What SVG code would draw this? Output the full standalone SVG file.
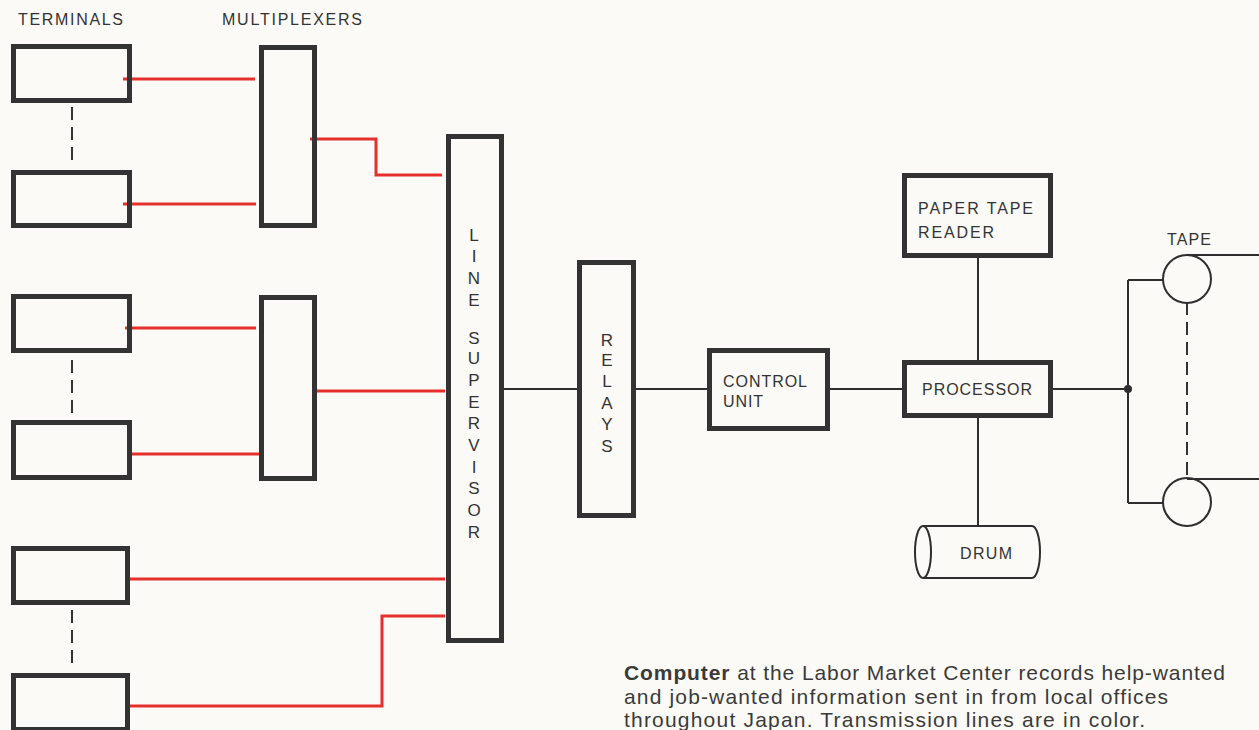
<svg xmlns="http://www.w3.org/2000/svg" width="1259" height="730" viewBox="0 0 1259 730">
<style>
.box{fill:none;stroke:#333;stroke-width:5}
.red{fill:none;stroke:#e5302c;stroke-width:3}
.blk{fill:none;stroke:#2e2e2e;stroke-width:2}
.dash{fill:none;stroke:#333;stroke-width:2;stroke-dasharray:13 7}
.lbl{font-family:"Liberation Sans",Arial,sans-serif;font-size:16px;fill:#333}
.v{font-family:"Liberation Sans",Arial,sans-serif;font-size:17px;fill:#333;text-anchor:middle}
.cap{font-family:"Liberation Sans",Arial,sans-serif;font-size:21px;fill:#3a3a3a}
</style>
<rect x="0" y="0" width="1259" height="730" fill="#fbfaf6"/>
<text class="lbl" x="18" y="25" textLength="105" lengthAdjust="spacing">TERMINALS</text>
<text class="lbl" x="222" y="25" textLength="140" lengthAdjust="spacing">MULTIPLEXERS</text>
<text class="lbl" x="1167" y="245" textLength="44" lengthAdjust="spacing">TAPE</text>

<g id="connectors">
<path class="red" d="M123 79H255"/>
<path class="red" d="M123 204H256"/>
<path class="red" d="M310 139H376V175H442"/>
<path class="red" d="M125 328H256"/>
<path class="red" d="M130 454H259"/>
<path class="red" d="M317 391H445"/>
<path class="red" d="M130 579H445"/>
<path class="red" d="M130 706H382V616H445"/>
<path class="blk" d="M504 389H577M636 389H707M830 389H902M978 258V360M978 418V526M1053 389H1128M1128 280V503M1128 280H1163M1128 503H1163M1187 255H1259M1187 479H1259"/>
<circle cx="1128" cy="389" r="4" fill="#2e2e2e"/>
<path class="dash" d="M1187 302V478"/>
<path class="dash" d="M72 107V166M72 360V416M72 610V667"/>
</g>

<g id="term1"><rect class="box" x="13.5" y="46.5" width="116" height="54"/></g>
<g id="term2"><rect class="box" x="13.5" y="172.5" width="116" height="53"/></g>
<g id="term3"><rect class="box" x="13.5" y="296.5" width="116" height="54"/></g>
<g id="term4"><rect class="box" x="13.5" y="422.5" width="116" height="55"/></g>
<g id="term5"><rect class="box" x="13.5" y="548.5" width="114" height="54"/></g>
<g id="term6"><rect class="box" x="13.5" y="675.5" width="114" height="54"/></g>
<g id="mux1"><rect class="box" x="261.5" y="47.5" width="53" height="178"/></g>
<g id="mux2"><rect class="box" x="261.5" y="297.5" width="53" height="181"/></g>
<g id="lineSupervisor">
<rect class="box" x="448.5" y="136.5" width="53" height="504"/>
<text class="v" x="474" y="241">L</text>
<text class="v" x="474" y="262">I</text>
<text class="v" x="474" y="284">N</text>
<text class="v" x="474" y="306">E</text>
<text class="v" x="474" y="344">S</text>
<text class="v" x="474" y="364">U</text>
<text class="v" x="474" y="386">P</text>
<text class="v" x="474" y="408">E</text>
<text class="v" x="474" y="429">R</text>
<text class="v" x="474" y="451">V</text>
<text class="v" x="474" y="473">I</text>
<text class="v" x="474" y="494">S</text>
<text class="v" x="474" y="516">O</text>
<text class="v" x="474" y="538">R</text>
</g>
<g id="relays">
<rect class="box" x="579.5" y="262.5" width="54" height="253"/>
<text class="v" x="607" y="346">R</text>
<text class="v" x="607" y="366">E</text>
<text class="v" x="607" y="387">L</text>
<text class="v" x="607" y="409">A</text>
<text class="v" x="607" y="430">Y</text>
<text class="v" x="607" y="452">S</text>
</g>
<g id="controlUnit">
<rect class="box" x="709.5" y="350.5" width="118" height="78"/>
<text class="lbl" x="723" y="387" textLength="84" lengthAdjust="spacing">CONTROL</text>
<text class="lbl" x="723" y="407" textLength="40" lengthAdjust="spacing">UNIT</text>
</g>
<g id="paperTapeReader">
<rect class="box" x="904.5" y="175.5" width="146" height="80"/>
<text class="lbl" x="918" y="214" textLength="115" lengthAdjust="spacing">PAPER TAPE</text>
<text class="lbl" x="918" y="238" textLength="76" lengthAdjust="spacing">READER</text>
</g>
<g id="processor">
<rect class="box" x="904.5" y="362.5" width="146" height="53"/>
<text class="lbl" x="922" y="395" textLength="110" lengthAdjust="spacing">PROCESSOR</text>
</g>
<g id="drum">
<path class="blk" d="M923 526H1032A8 26 0 0 1 1032 578H923" fill="#fbfaf6"/>
<ellipse class="blk" cx="923" cy="552" rx="8" ry="26"/>
<text class="lbl" x="960" y="559" textLength="52" lengthAdjust="spacing">DRUM</text>
</g>
<g id="tape1"><circle class="blk" cx="1187" cy="279" r="24"/></g>
<g id="tape2"><circle class="blk" cx="1187" cy="502" r="24"/></g>

<g id="caption">
<text class="cap" x="624" y="680" textLength="601" lengthAdjust="spacing"><tspan font-weight="bold">Computer</tspan> at the Labor Market Center records help-wanted</text>
<text class="cap" x="624" y="704" textLength="544" lengthAdjust="spacing">and job-wanted information sent in from local offices</text>
<text class="cap" x="624" y="727" textLength="521" lengthAdjust="spacing">throughout Japan. Transmission lines are in color.</text>
</g>
</svg>
